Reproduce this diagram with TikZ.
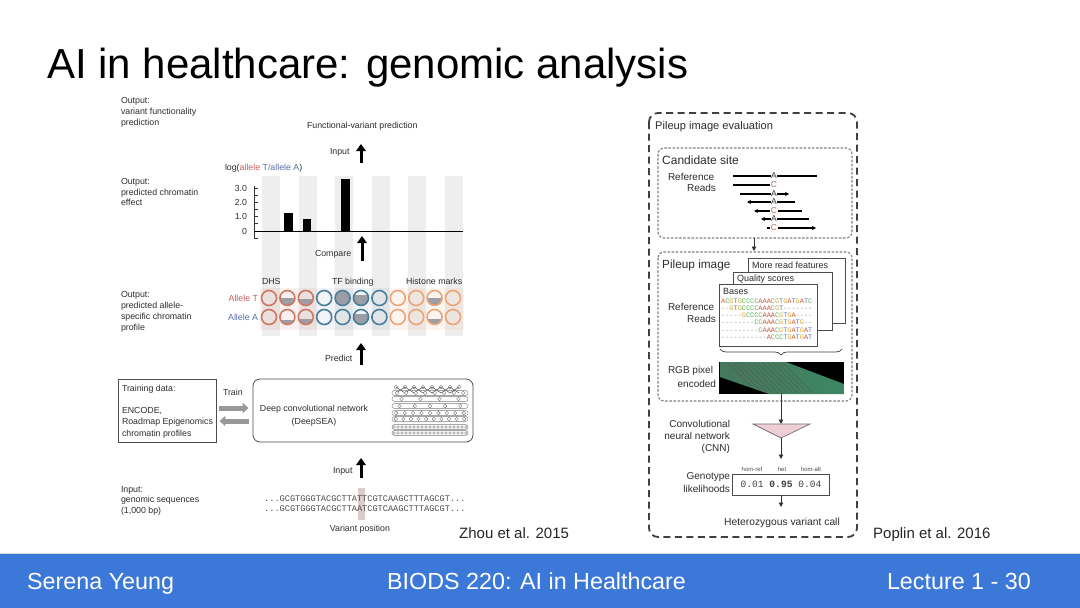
\documentclass[tikz,border=0pt]{standalone}
\usepackage{fontspec}
\setmainfont{Liberation Sans}
\setmonofont{Liberation Mono}
\usetikzlibrary{arrows.meta,decorations.pathreplacing,calc}
\definecolor{footblue}{RGB}{60,120,216}
\definecolor{dhs}{RGB}{205,120,100}
\definecolor{tfb}{RGB}{75,125,155}
\definecolor{hist}{RGB}{235,165,120}
\definecolor{alleleT}{RGB}{200,95,95}
\definecolor{alleleA}{RGB}{85,110,165}
\definecolor{cfill}{RGB}{155,158,165}
\definecolor{stripe}{RGB}{238,238,238}
\definecolor{txtg}{RGB}{45,45,45}
\definecolor{netg}{RGB}{120,120,120}
\definecolor{cA}{RGB}{215,75,60}
\definecolor{cC}{RGB}{95,180,95}
\definecolor{cG}{RGB}{215,170,60}
\definecolor{cT}{RGB}{95,120,205}
\definecolor{cD}{RGB}{150,150,150}
\definecolor{cnnpink}{RGB}{238,205,215}
\definecolor{rgbga}{RGB}{70,120,95}
\definecolor{rgbgb}{RGB}{60,135,100}
\definecolor{seqhl}{RGB}{220,205,205}
\newcommand\acirc[4]{%
  \begin{scope}\clip (#1,#2) circle[radius=7.5pt];
  \fill[cfill] ({#1-9},{#2+9}) rectangle ({#1+9},{#2+7.5-15*#4});\end{scope}
  \draw[#3, line width=1.6pt] (#1,#2) circle[radius=7.5pt];}
\def\xseq#1{\ifx#1\relax\else\colchar{#1}\expandafter\xseq\fi}
\def\colchar#1{\if#1A\textcolor{cA}{A}\else\if#1C\textcolor{cC}{C}\else\if#1G\textcolor{cG}{G}\else\if#1T\textcolor{cT}{T}\else\textcolor{cD}{#1}\fi\fi\fi\fi}
\newcommand\seqcol[1]{\xseq#1\relax}
\begin{document}
\begin{tikzpicture}[x=1pt,y=-1pt,
  txt/.style={inner sep=0pt, outer sep=0pt, text=txtg, font=\fontsize{8.8}{10}\selectfont, anchor=base west},
  txtr/.style={txt, anchor=base east},
  txtc/.style={txt, anchor=base},
  rtxt/.style={inner sep=0pt, outer sep=0pt, text=txtg, font=\fontsize{10}{12}\selectfont, anchor=base west},
  rtxtr/.style={rtxt, anchor=base east},
  smtxt/.style={inner sep=0pt, outer sep=0pt, text=txtg, font=\fontsize{9}{10}\selectfont, anchor=base west},
  bigarrow/.style={line width=3pt, -{Triangle[length=7pt,width=9.5pt]}},
  grayarrow/.style={line width=5pt, draw=black!40, -{Triangle[length=6pt,width=10pt]}},
  smallarrow/.style={line width=0.9pt, draw=black!80, -{Triangle[length=4.5pt,width=4.5pt]}},
  readline/.style={line width=1.3pt, draw=black},
  readarrow/.style={readline, -{Stealth[length=4pt,width=4pt]}},
  readletter/.style={inner sep=0.5pt, fill=white, font=\fontsize{8.5}{9}\selectfont, text=black!80},
  outerdash/.style={draw=black!75, line width=1.8pt, dash pattern=on 7pt off 4.5pt, rounded corners=9pt},
  innerdash/.style={draw=black!50, line width=1.1pt, dash pattern=on 2.5pt off 1.6pt, rounded corners=6pt},
  layerbox/.style={draw=black!70, line width=0.9pt, fill=white},
  foot/.style={inner sep=0pt, text=white, font=\fontsize{23.3}{26}\selectfont, anchor=base west}
]
\useasboundingbox (0,0) rectangle (1080,608);
\fill[white] (0,0) rectangle (1080,608);

% Title
\node[inner sep=0pt, anchor=base west, font=\fontsize{42}{46}\selectfont] (title) at (47,78) {AI in healthcare: genomic analysis};

% ===== Left figure (Zhou et al.) =====
\foreach \i in {0,...,5} \fill[stripe] ({262+36.6*\i},176) rectangle ({280+36.6*\i},336);
\fill[dhs, opacity=0.10] (260,288) rectangle (316,330);
\fill[tfb, opacity=0.08] (316,288) rectangle (389,330);
\fill[hist, opacity=0.12] (389,288) rectangle (464,330);

\node[txt] (o1a) at (121,103.5) {Output:};
\node[txt] (o1b) at (121,114.5) {variant functionality};
\node[txt] (o1c) at (121,125.5) {prediction};
\node[txt] (o2a) at (121,184.5) {Output:};
\node[txt] (o2b) at (121,195) {predicted chromatin};
\node[txt] (o2c) at (121,205.5) {effect};
\node[txt] (o3a) at (121,297.5) {Output:};
\node[txt] (o3b) at (121,308.5) {predicted allele-};
\node[txt] (o3c) at (121,319.5) {specific chromatin};
\node[txt] (o3d) at (121,330.5) {profile};
\node[txt] (i1a) at (121,492) {Input:};
\node[txt] (i1b) at (121,502.5) {genomic sequences};
\node[txt] (i1c) at (121,513) {(1,000 bp)};

\node[txt] (fvp) at (307,128) {Functional-variant prediction};
\node[txt] (inp1) at (330,154.5) {Input};
\coordinate (a1s) at (361,163);
\coordinate (a1e) at (361,144);
\draw[bigarrow] (a1s) -- (a1e);

\node[txt] (loglbl) at (225,170) {log(\textcolor{alleleT}{allele} \textcolor{alleleA}{T/allele A})};
\node[txtr] (y3) at (247,191.5) {3.0};
\node[txtr] (y2) at (247,205.5) {2.0};
\node[txtr] (y1) at (247,219.5) {1.0};
\node[txtr] (y0) at (247,234.5) {0};
\draw[line width=0.7pt, black!80] (254,186) -- (254,238);
\foreach \t in {188,195,202,209,216,223,238} \draw[line width=0.7pt, black!80] (254,\t) -- (258,\t);
\draw[line width=0.8pt, black] (254,231) -- (463,231);
\fill[black] (284,213) rectangle (293,231);
\fill[black] (303,219) rectangle (311,231);
\fill[black] (341,179) rectangle (350,231);

\node[txt] (cmp) at (315,256.5) {Compare};
\coordinate (a2s) at (362,261);
\coordinate (a2e) at (362,236);
\draw[bigarrow] (a2s) -- (a2e);

\node[txt] (dhsl) at (262,284.5) {DHS};
\node[txt] (tfl) at (332,284.5) {TF binding};
\node[txt] (hml) at (406,284.5) {Histone marks};
\node[txtr, text=alleleT] (alT) at (258,301.5) {Allele T};
\node[txtr, text=alleleA] (alA) at (258,320.5) {Allele A};
\foreach \i/\c/\ft/\fa in {1/dhs/0/0, 2/dhs/0.5/0.3, 3/dhs/0.45/0.35, 4/tfb/0/0, 5/tfb/1/0, 6/tfb/0.72/0.7, 7/tfb/0/0, 8/hist/0/0, 9/hist/0/0, 10/hist/0.5/0.4, 11/hist/0/0}{
  \pgfmathsetmacro\cx{269+18.4*(\i-1)}
  \acirc{\cx}{298}{\c}{\ft}
  \acirc{\cx}{317}{\c}{\fa}
}

\node[txt] (prd) at (325,361) {Predict};
\coordinate (a3s) at (361,365);
\coordinate (a3e) at (361,343);
\draw[bigarrow] (a3s) -- (a3e);

\node[draw=black!70, line width=0.8pt, minimum width=98pt, minimum height=63pt, inner sep=0pt] (trainbox) at (167,410.5) {};
\node[txt] (tr1) at (122,391) {Training data:};
\node[txt] (tr2) at (122,413) {ENCODE,};
\node[txt] (tr3) at (122,424.5) {Roadmap Epigenomics};
\node[txt] (tr4) at (122,436) {chromatin profiles};
\node[txt] (trainl) at (223,395) {Train};
\node[draw=black!70, line width=0.8pt, rounded corners=7pt, minimum width=220pt, minimum height=63pt, inner sep=0pt] (deepbox) at (363,410.5) {};
\node[txtc] (dp1) at (314,411) {Deep convolutional network};
\node[txtc] (dp2) at (314,424) {(DeepSEA)};
\draw[grayarrow] ([yshift=2.5pt,xshift=3pt]trainbox.east) -- ([yshift=2.5pt,xshift=-4pt]deepbox.west);
\draw[grayarrow] ([yshift=-10.5pt,xshift=-4pt]deepbox.west) -- ([yshift=-10.5pt,xshift=3pt]trainbox.east);

\foreach \k in {0,...,7} {
  \draw[netg, line width=0.4pt] ({396+9*\k},387) circle[radius=1.8pt];
}
\foreach \k in {0,...,6} {
  \draw[black!70, line width=0.5pt] ({396+9*\k},387) -- ({405+9*\k},393);
  \draw[black!70, line width=0.5pt] ({405+9*\k},387) -- ({396+9*\k},393);
}
\foreach \yy/\n/\r in {393/8/1.8, 399/4/1.8, 406/5/1.8, 413/9/1.8, 419/10/1.8, 427/19/1.3, 433/19/1.3} {
  \draw[netg, rounded corners=2pt, line width=0.45pt] (392,{\yy-2.3}) rectangle (468,{\yy+2.3});
  \foreach \k in {1,...,\n} {
    \draw[netg, line width=0.4pt, fill=white] ({392+76*(\k-0.5)/\n},\yy) circle[radius=\r pt];
  }
}

\node[txt] (inp2) at (333,473) {Input};
\coordinate (a4s) at (361,478);
\coordinate (a4e) at (361,458);
\draw[bigarrow] (a4s) -- (a4e);
\fill[seqhl] (357.5,488) rectangle (364.5,520);
\node[inner sep=0pt, anchor=base west, text=black!70, font=\ttfamily\fontsize{8.6}{10}\selectfont] (seq1) at (264,501.5) {...GCGTGGGTACGCTTATTCGTCAAGCTTTAGCGT...};
\node[inner sep=0pt, anchor=base west, text=black!70, font=\ttfamily\fontsize{8.6}{10}\selectfont] (seq2) at (264,511.5) {...GCGTGGGTACGCTTAATCGTCAAGCTTTAGCGT...};
\node[txtc] (varpos) at (360,531) {Variant position};
\node[inner sep=0pt, anchor=base west, font=\fontsize{15}{17}\selectfont, text=black!85] (zhou) at (459,538.5) {Zhou et al. 2015};

% ===== Right figure (Poplin et al.) =====
\draw[outerdash] (649,113) rectangle (857,537);
\node[inner sep=0pt, anchor=base west, text=txtg, font=\fontsize{11.1}{13}\selectfont] (pie) at (655,129.5) {Pileup image evaluation};

\draw[innerdash] (658,148) rectangle (852,238);
\node[inner sep=0pt, anchor=base west, text=txtg, font=\fontsize{12}{14}\selectfont] (cand) at (662,164.5) {Candidate site};
\node[rtxt] (ref1) at (668,180) {Reference};
\node[rtxtr] (rd1) at (716,191) {Reads};
\coordinate (r1a) at (733,176); \coordinate (r1b) at (817,176);
\draw[readline] (r1a) -- (r1b);
\node[readletter] (l1) at (774,176) {A};
\coordinate (r2a) at (733,185); \coordinate (r2b) at (778,185);
\draw[readline] (r2a) -- (r2b);
\node[readletter, text=dhs!90!black] (l2) at (774,185) {C};
\coordinate (r3a) at (740,194); \coordinate (r3b) at (789,194);
\draw[readarrow] (r3a) -- (r3b);
\node[readletter] (l3) at (774,194) {A};
\coordinate (r4a) at (795,202); \coordinate (r4b) at (747,202);
\draw[readarrow] (r4a) -- (r4b);
\node[readletter] (l4) at (774,202) {A};
\coordinate (r5a) at (802,211); \coordinate (r5b) at (754,211);
\draw[readarrow] (r5a) -- (r5b);
\node[readletter, text=dhs!90!black] (l5) at (774,211) {C};
\coordinate (r6a) at (809,219); \coordinate (r6b) at (761,219);
\draw[readarrow] (r6a) -- (r6b);
\node[readletter] (l6) at (774,219) {A};
\coordinate (r7a) at (767,228); \coordinate (r7b) at (816,228);
\draw[readarrow] (r7a) -- (r7b);
\node[readletter, text=dhs!90!black] (l7) at (774,228) {C};

\coordinate (cs1) at (754,238);
\coordinate (pi1) at (754,251);
\draw[smallarrow] (cs1) -- (pi1);

\draw[innerdash] (658,252) rectangle (852,401);
\node[inner sep=0pt, anchor=base west, text=txtg, font=\fontsize{11.8}{14}\selectfont] (pil) at (662,268.5) {Pileup image};
\node[layerbox, minimum width=97pt, minimum height=65pt, inner sep=0pt] (lay3) at (796.5,290.5) {};
\node[smtxt] (lay3t) at (752,268.5) {More read features};
\node[layerbox, minimum width=99pt, minimum height=58pt, inner sep=0pt] (lay2) at (782.5,301) {};
\node[smtxt] (lay2t) at (737,281.5) {Quality scores};
\node[layerbox, minimum width=98pt, minimum height=62pt, inner sep=0pt] (lay1) at (768,315) {};
\node[smtxt] (lay1t) at (723,294) {Bases};
\node[inner sep=0pt, anchor=north west, align=left, font=\ttfamily\fontsize{6.9}{7.2}\selectfont] (bases) at (721,298.5) {%
\seqcol{ACGTGCCCCAAACGTGATGATC}\\
\seqcol{--GTGCCCCAAACGT-------}\\
\seqcol{-----GCCCCAAACGTGA----}\\
\seqcol{--------CCAAACGTGATG--}\\
\seqcol{---------CAAACGTGATGAT}\\
\seqcol{-----------ACCCTGATGAT}};
\node[rtxt] (ref2) at (668,310.5) {Reference};
\node[rtxtr] (rd2) at (716,322.5) {Reads};
\draw[decorate, decoration={brace, mirror, amplitude=6pt}, line width=0.7pt, black!75] (720,349) -- (842,349);

\node[rtxt] (rgb1) at (668,373.5) {RGB pixel};
\node[rtxtr] (rgb2) at (716,387.5) {encoded};
\fill[black] (719,362) rectangle (844,394);
\shade[left color=rgbga, right color=rgbgb] (720,362) -- (786,362) -- (844,384) -- (844,394) -- (769,394) -- (720,377) -- cycle;
\foreach \k in {0,...,11} \draw[red!60!black, opacity=0.25, line width=0.6pt] ({728+5*\k},363) -- ({758+5*\k},393);
\coordinate (rgbb) at (781,394);

\coordinate (cnnt) at (781,424);
\coordinate (cnnb) at (781,438);
\draw[smallarrow] (rgbb) -- (cnnt);
\draw[fill=cnnpink, draw=black!55, line width=0.7pt] (753,424) -- (810,424) -- (cnnb) -- cycle;
\node[rtxtr] (cnn1) at (730,427) {Convolutional};
\node[rtxtr] (cnn2) at (730,439) {neural network};
\node[rtxtr] (cnn3) at (730,451) {(CNN)};

\node[draw=black!70, line width=0.9pt, minimum width=97pt, minimum height=21pt, inner sep=0pt, font=\ttfamily\fontsize{9.6}{11}\selectfont, text=black!75] (gbox) at (781,484.5) {0.01 \textbf{0.95} 0.04};
\coordinate (gin) at (781,459);
\draw[smallarrow] (cnnb) -- (gin);
\node[inner sep=0pt, anchor=base, font=\fontsize{6}{7}\selectfont, text=black!70] (hr) at (752,471) {hom-ref};
\node[inner sep=0pt, anchor=base, font=\fontsize{6}{7}\selectfont, text=black!70] (ht) at (782,471) {het};
\node[inner sep=0pt, anchor=base, font=\fontsize{6}{7}\selectfont, text=black!70] (ha) at (811,471) {hom-alt};
\node[rtxtr] (gt1) at (730,479.5) {Genotype};
\node[rtxtr] (gt2) at (730,492.5) {likelihoods};
\node[inner sep=0pt, anchor=base, font=\fontsize{10.3}{12}\selectfont, text=txtg] (hvc) at (782,525.5) {Heterozygous variant call};
\coordinate (hvcin) at (781,507);
\draw[smallarrow] (gbox.south) -- (hvcin);

\node[inner sep=0pt, anchor=base west, font=\fontsize{15}{17}\selectfont, text=black!85] (poplin) at (873,538.5) {Poplin et al. 2016};

% ===== Footer =====
\fill[footblue] (0,553) rectangle (1080,608);
\draw[black!15, line width=0.6pt] (0,553) -- (1080,553);
\node[foot] (f1) at (27,589) {Serena Yeung};
\node[foot] (f2) at (387,589) {BIODS 220: AI in Healthcare};
\node[foot, anchor=base east] (f3) at (1031,589) {Lecture 1 - 30};
\end{tikzpicture}
\end{document}
